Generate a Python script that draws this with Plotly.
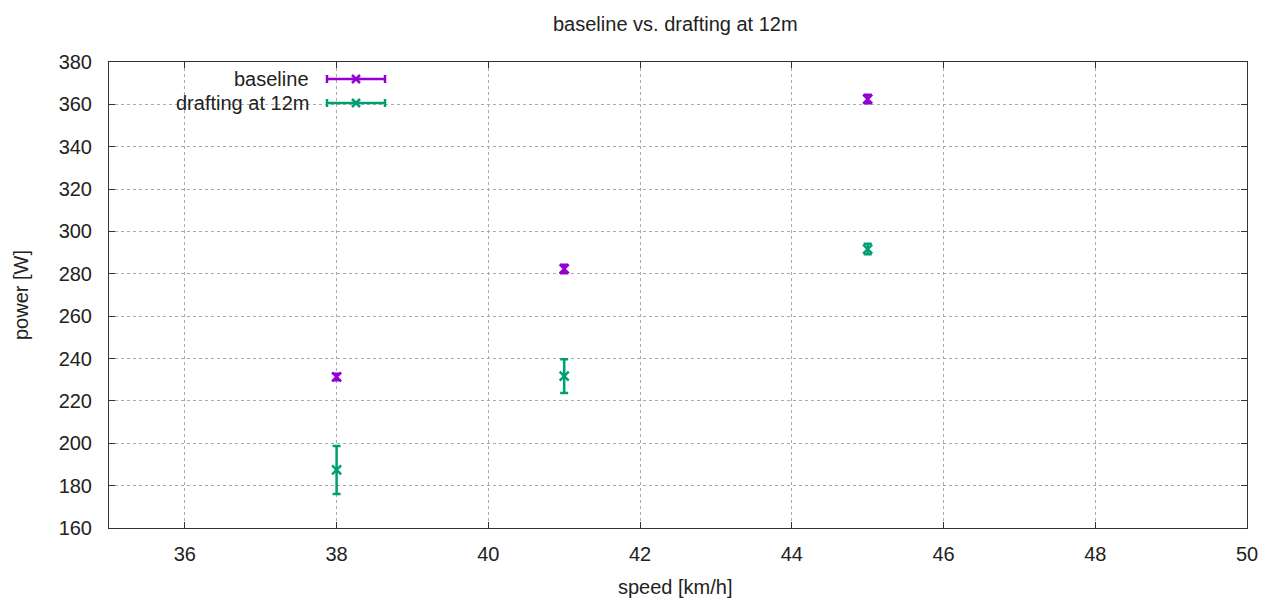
import plotly.graph_objects as go

speeds = [38, 41, 45]
baseline_power = [231.3, 282.3, 362.5]
baseline_err = [1.5, 2.0, 2.0]
drafting_power = [187.4, 231.7, 291.7]
drafting_err = [11.3, 8.0, 2.5]

series_names = ["baseline", "drafting at 12m"]
colors = ["#9400D3", "#009E73"]

x_ticks = [36, 38, 40, 42, 44, 46, 48, 50]
y_ticks = list(range(160, 381, 20))

FONT = "Liberation Sans, Arial, sans-serif"
FS = 20

# page has an 8px body margin; target frame coordinates below are in screenshot pixels
OFF = 8
FIG_W, FIG_H = 1269 - OFF, 599 - OFF
L, R, T, B = 109, 1247, 62, 528
W, H = R - L, B - T

fig = go.Figure()
for name, vals, errs, col in [
    (series_names[0], baseline_power, baseline_err, colors[0]),
    (series_names[1], drafting_power, drafting_err, colors[1]),
]:
    fig.add_trace(go.Scatter(
        x=speeds, y=vals, mode="markers", name=name,
        marker=dict(symbol="x-thin-open", size=9, color=col,
                    line=dict(width=2.5, color=col)),
        error_y=dict(type="data", array=errs, visible=True, color=col,
                     thickness=2.5, width=4),
        showlegend=False,
    ))

def px(x): return (x - L) / W
def py(y): return (B - y) / H

shapes = []
annotations = []
for i, (name, col) in enumerate(zip(series_names, colors)):
    yy = 79 + 24 * i
    x0, x1, xc = 327, 385, 356
    shapes.append(dict(type="line", xref="paper", yref="paper",
                       x0=px(x0), x1=px(x1), y0=py(yy), y1=py(yy),
                       line=dict(color=col, width=2.5)))
    for xe in (x0, x1):
        shapes.append(dict(type="line", xref="paper", yref="paper",
                           x0=px(xe), x1=px(xe), y0=py(yy - 4), y1=py(yy + 4),
                           line=dict(color=col, width=2.5)))
    for d in (1, -1):
        shapes.append(dict(type="line", xref="paper", yref="paper",
                           x0=px(xc - 4), x1=px(xc + 4), y0=py(yy - 4 * d), y1=py(yy + 4 * d),
                           line=dict(color=col, width=2.5)))
    annotations.append(dict(xref="paper", yref="paper", x=px(311), y=py(yy),
                            xanchor="right", yanchor="middle", text=name,
                            showarrow=False, font=dict(family=FONT, size=FS, color="#222")))

# chart title and axis titles
annotations.append(dict(xref="paper", yref="paper", x=px(675), y=py(24),
                        xanchor="center", yanchor="middle",
                        text="baseline vs. drafting at 12m", showarrow=False,
                        font=dict(family=FONT, size=FS, color="#222")))
annotations.append(dict(xref="paper", yref="paper", x=px(675), y=py(587),
                        xanchor="center", yanchor="middle",
                        text="speed [km/h]", showarrow=False,
                        font=dict(family=FONT, size=FS, color="#222")))
annotations.append(dict(xref="paper", yref="paper", x=px(21), y=py(295),
                        xanchor="center", yanchor="middle", textangle=-90,
                        text="power [W]", showarrow=False,
                        font=dict(family=FONT, size=FS, color="#222")))

fig.update_layout(
    width=FIG_W, height=FIG_H,
    margin=dict(l=L - OFF, r=FIG_W - (R - OFF), t=T - OFF, b=FIG_H - (B - OFF),
                autoexpand=False),
    paper_bgcolor="white", plot_bgcolor="white",
    font=dict(family=FONT, size=FS, color="#222"),
    shapes=shapes, annotations=annotations,
)
fig.update_xaxes(range=[35, 50], tickvals=x_ticks, ticks="inside", ticklen=6,
                 tickcolor="#333", showline=True, linecolor="#333", linewidth=1,
                 mirror="ticks", showgrid=True, gridcolor="#aaa", griddash="dot",
                 gridwidth=1, zeroline=False, ticklabelstandoff=8, automargin=False,
                 tickfont=dict(family=FONT, size=FS, color="#222"))
fig.update_yaxes(range=[160, 380], tickvals=y_ticks, ticks="inside", ticklen=6,
                 tickcolor="#333", showline=True, linecolor="#333", linewidth=1,
                 mirror="ticks", showgrid=True, gridcolor="#aaa", griddash="dot",
                 gridwidth=1, zeroline=False, ticklabelstandoff=12, automargin=False,
                 tickfont=dict(family=FONT, size=FS, color="#222"))

fig.write_html("out.html")
